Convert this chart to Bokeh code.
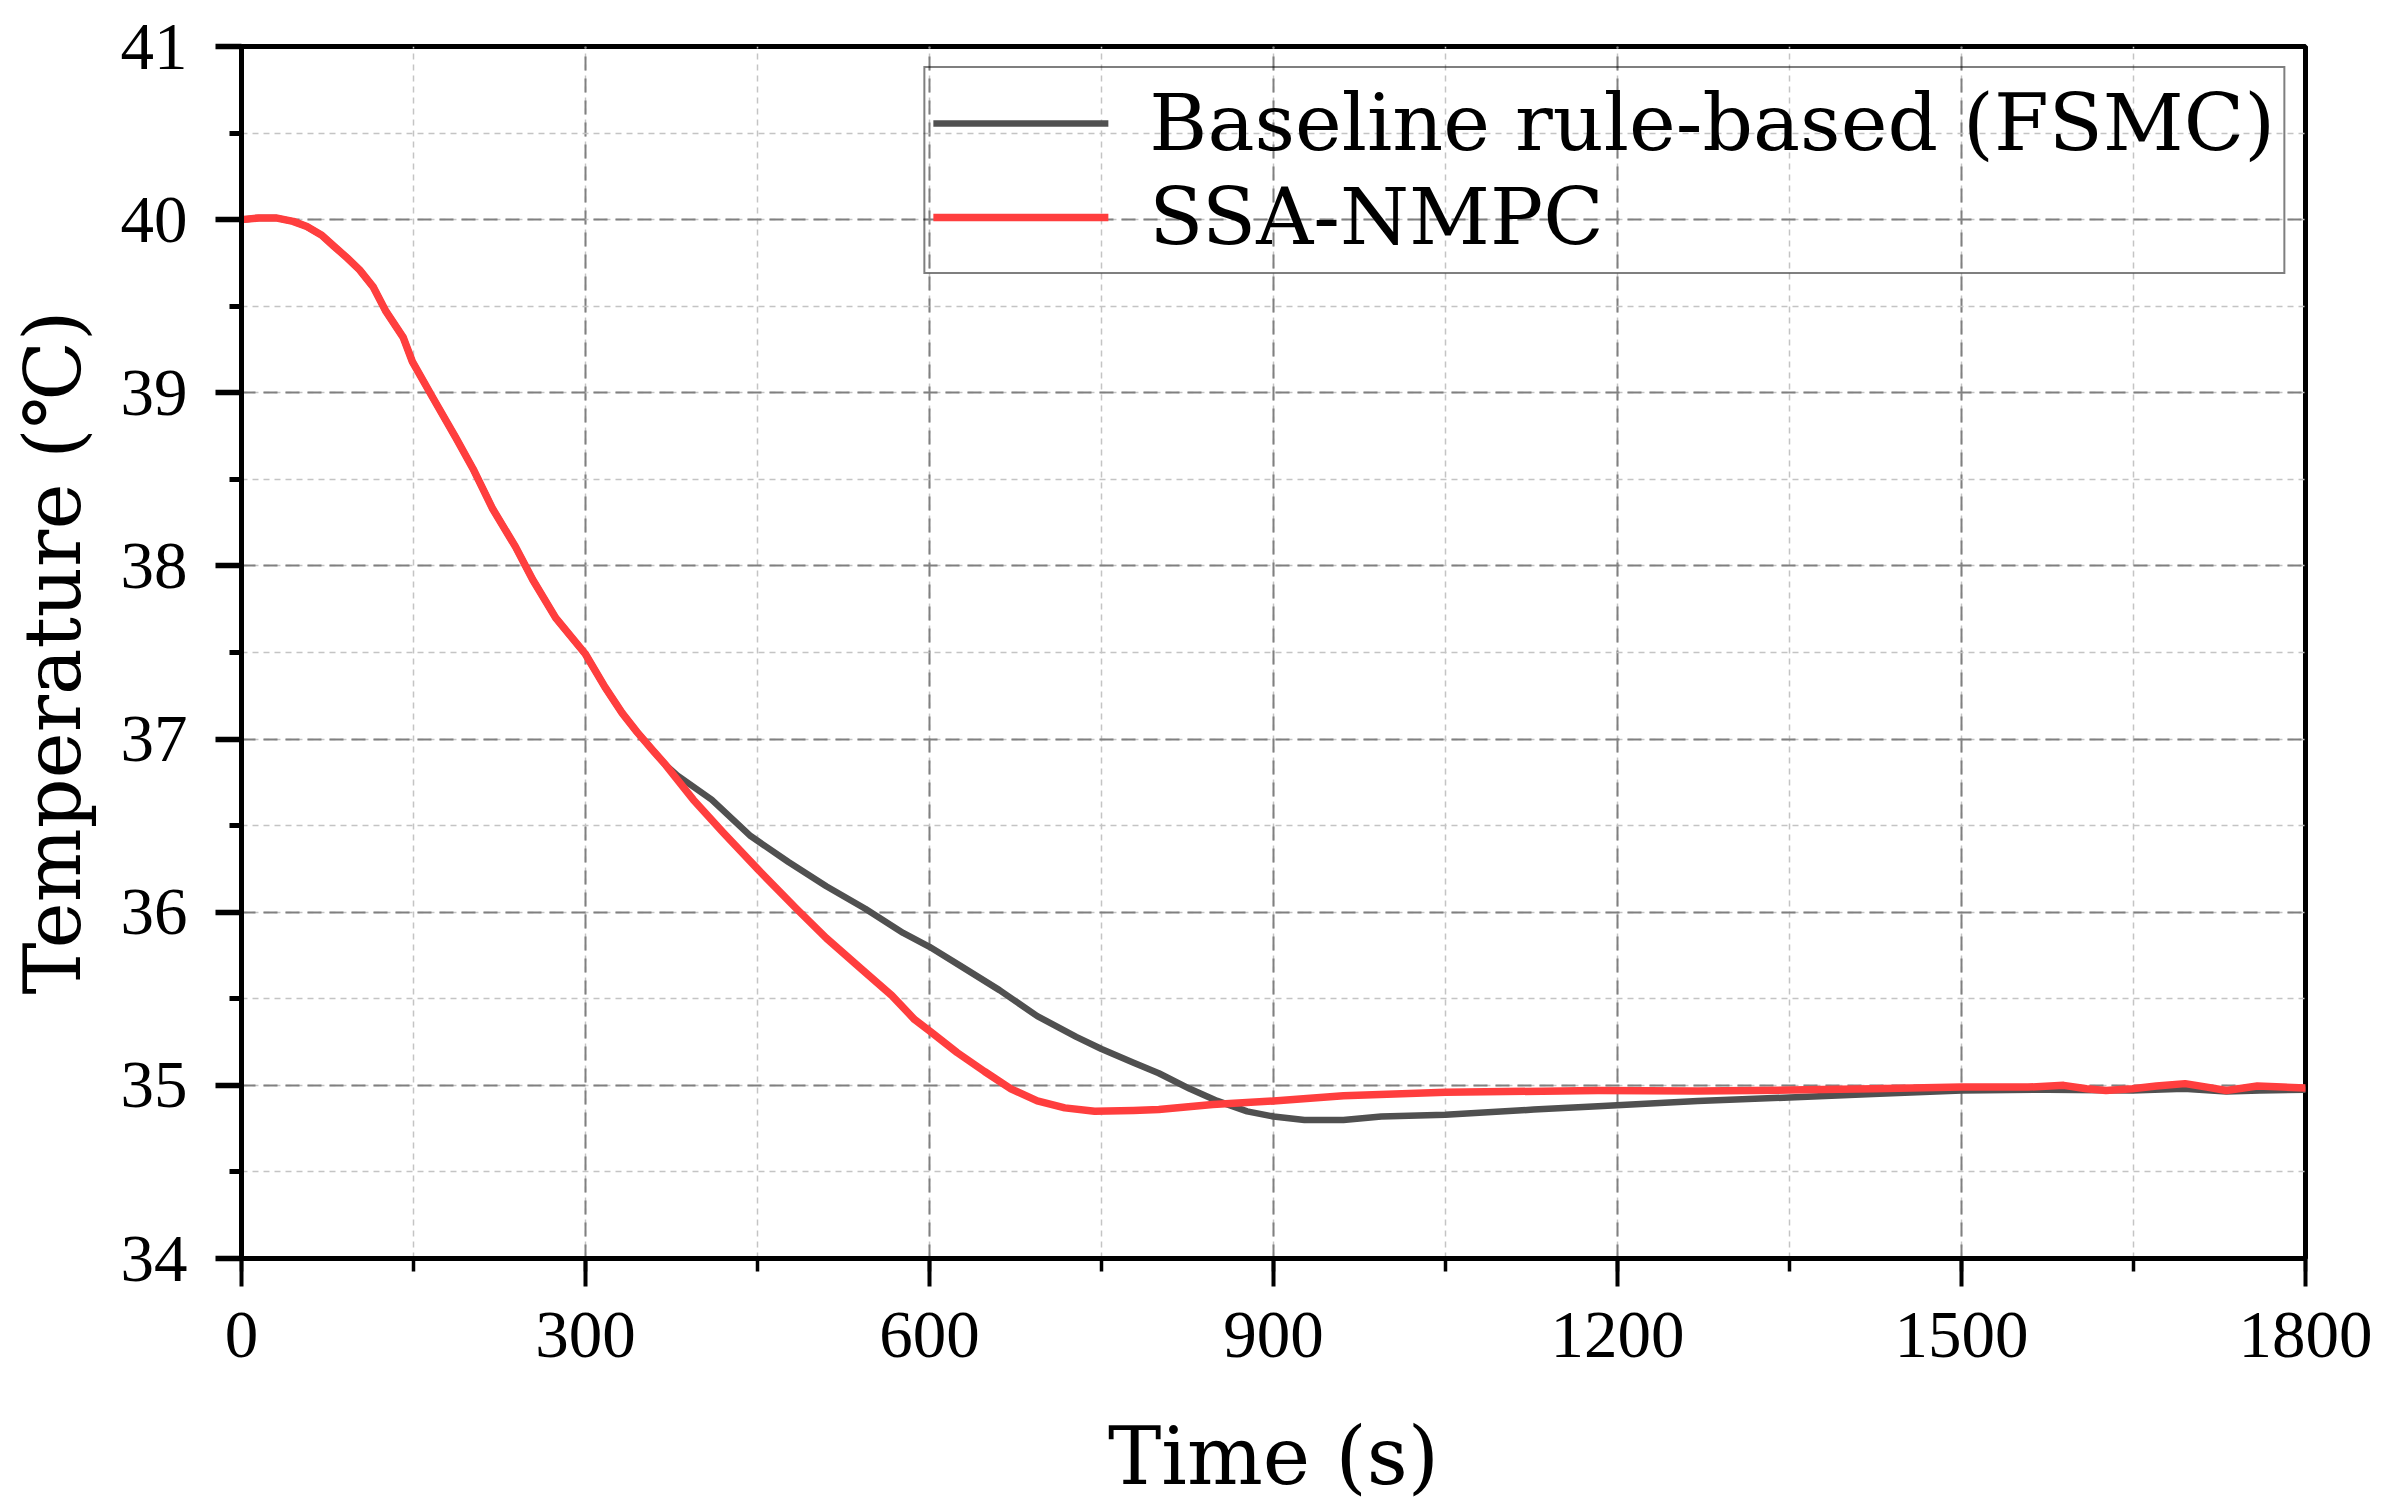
from bokeh.plotting import figure
from bokeh.models import SingleIntervalTicker, Legend
from bokeh.embed import file_html
from bokeh.resources import INLINE

# Time axis (s) and temperature (°C) for the two controllers
t_ssa = [0, 15, 30, 45, 57, 70, 80, 92, 103, 115, 126, 141, 149, 167, 187, 202,
         219, 239, 254, 274, 300, 317, 332, 345, 358, 370, 394, 420, 450, 484,
         510, 541, 567, 587, 601, 624, 648, 671, 694, 718, 744, 778, 800, 847,
         900, 961, 1050, 1183, 1270, 1350, 1423, 1500, 1558, 1589, 1609, 1626,
         1649, 1670, 1695, 1714, 1731, 1758, 1780, 1800]
y_ssa = [40.00, 40.01, 40.01, 39.99, 39.96, 39.91, 39.85, 39.78, 39.71, 39.61,
         39.47, 39.32, 39.18, 38.97, 38.74, 38.56, 38.33, 38.11, 37.92, 37.70,
         37.49, 37.30, 37.15, 37.04, 36.94, 36.85, 36.65, 36.46, 36.25, 36.02,
         35.85, 35.67, 35.52, 35.38, 35.31, 35.19, 35.08, 34.98, 34.91, 34.87,
         34.85, 34.855, 34.86, 34.89, 34.91, 34.94, 34.96, 34.97, 34.967, 34.973,
         34.98, 34.99, 34.99, 35.00, 34.98, 34.97, 34.98, 34.996, 35.01, 34.99,
         34.97, 34.996, 34.99, 34.985]

t_base = [0, 15, 30, 45, 57, 70, 80, 92, 103, 115, 126, 141, 149, 167, 187, 202,
          219, 239, 254, 274, 300, 317, 332, 345, 358, 370, 380, 410, 444, 477,
          510, 544, 577, 600, 627, 661, 694, 728, 750, 778, 800, 827, 851, 877,
          900, 927, 961, 994, 1050, 1127, 1183, 1270, 1350, 1423, 1500, 1575,
          1649, 1694, 1731, 1760, 1800]
y_base = [40.00, 40.01, 40.01, 39.99, 39.96, 39.91, 39.85, 39.78, 39.71, 39.61,
          39.47, 39.32, 39.18, 38.97, 38.74, 38.56, 38.33, 38.11, 37.92, 37.70,
          37.49, 37.30, 37.15, 37.04, 36.94, 36.85, 36.79, 36.65, 36.44, 36.29,
          36.15, 36.02, 35.88, 35.80, 35.69, 35.55, 35.40, 35.28, 35.21, 35.13,
          35.07, 34.98, 34.91, 34.85, 34.82, 34.80, 34.80, 34.82, 34.83, 34.86,
          34.88, 34.91, 34.93, 34.95, 34.97, 34.975, 34.97, 34.98, 34.965,
          34.97, 34.975]

series_names = ["Baseline rule-based (FSMC)", "SSA-NMPC"]
series_colors = ["#505050", "#FF3E3E"]
x_title = "Time (s)"
y_title = "Temperature (℃)"

TICK_FONT = "Liberation Serif"
TITLE_FONT = "DejaVu Serif"

p = figure(width=2389, height=1512, output_backend="svg", toolbar_location=None,
           x_range=(0, 1800), y_range=(34, 41),
           min_border_left=241, min_border_right=84,
           min_border_top=46, min_border_bottom=254,
           background_fill_color="white", border_fill_color="white")

p.outline_line_color = "black"
p.outline_line_width = 5

p.xaxis.ticker = SingleIntervalTicker(interval=300, num_minor_ticks=2)
p.yaxis.ticker = SingleIntervalTicker(interval=1, num_minor_ticks=2)

for ax in (p.xaxis[0], p.yaxis[0]):
    ax.axis_line_color = "black"
    ax.axis_line_width = 5
    ax.major_tick_line_color = "black"
    ax.minor_tick_line_color = "black"
    ax.major_tick_in = 0
    ax.minor_tick_in = 0
    ax.major_label_text_font = TICK_FONT
    ax.major_label_text_font_size = "67px"
    ax.major_label_text_color = "black"
    ax.axis_label_text_font = TITLE_FONT
    ax.axis_label_text_font_style = "normal"
    ax.axis_label_text_color = "black"

p.xaxis.major_tick_out = 28
p.xaxis.minor_tick_out = 13
p.xaxis.major_tick_line_width = 4
p.xaxis.minor_tick_line_width = 3.5
p.xaxis.major_label_standoff = 26
p.xaxis.axis_label = x_title
p.xaxis.axis_label_text_font_size = "80px"
p.xaxis.axis_label_standoff = 50

p.yaxis.major_tick_out = 26
p.yaxis.minor_tick_out = 12
p.yaxis.major_tick_line_width = 5.5
p.yaxis.minor_tick_line_width = 5
p.yaxis.major_label_standoff = 28
p.yaxis.axis_label = y_title
p.yaxis.axis_label_text_font_size = "78px"
p.yaxis.axis_label_standoff = 20

for g in (p.xgrid[0], p.ygrid[0]):
    g.grid_line_color = "#808080"
    g.grid_line_width = 2
    g.grid_line_dash = "14 8"
    g.minor_grid_line_color = "#c4c4c4"
    g.minor_grid_line_width = 1.5
    g.minor_grid_line_dash = "6 5"

r_base = p.line(t_base, y_base, line_color=series_colors[0], line_width=6.5,
                line_join="round", line_cap="round")
r_ssa = p.line(t_ssa, y_ssa, line_color=series_colors[1], line_width=7.5,
               line_join="round", line_cap="round")

legend = Legend(items=[(series_names[0], [r_base]), (series_names[1], [r_ssa])],
                location="top_right")
legend.margin = 20
legend.padding = 8
legend.spacing = 0
legend.glyph_width = 175
legend.glyph_height = 94
legend.label_height = 94
legend.label_standoff = 41
legend.label_text_font = TITLE_FONT
legend.label_text_font_size = "79px"
legend.label_text_color = "black"
legend.border_line_color = "black"
legend.border_line_width = 2
legend.background_fill_alpha = 0
p.add_layout(legend)

open("out.html", "w").write(file_html(p, INLINE))
